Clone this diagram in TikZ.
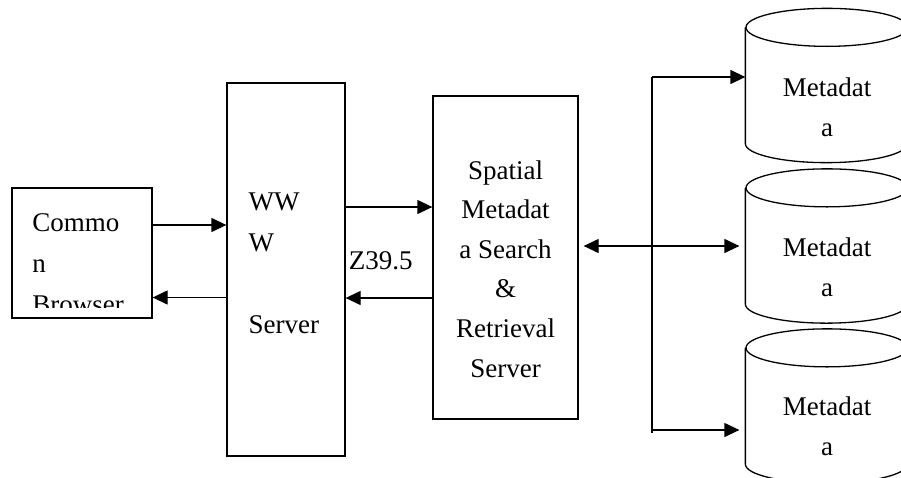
\documentclass[tikz,border=0pt]{standalone}
\usepackage{fontspec}
\setmainfont{Liberation Serif}
\usetikzlibrary{arrows.meta,positioning,calc}

% database outline drawn round a named node
\newcommand\drawdb[1]{%
  \draw ([yshift=-19pt]#1.north west) -- ([yshift=19pt]#1.south west)
    arc[start angle=180, end angle=0, x radius=81, y radius=19]
    -- ([yshift=-19pt]#1.north east);
  \draw ([yshift=-19pt]#1.north) ellipse [x radius=81, y radius=19];}

\begin{document}
\begin{tikzpicture}[x=1pt,y=-1pt,line width=1.3pt,
    >={Triangle[length=15pt,width=14pt]},
    box/.style={draw, rectangle, inner sep=0pt},
    txt/.style={inner sep=0pt, font=\fontsize{27}{41}\selectfont},
    db/.style={rectangle, minimum width=162pt, minimum height=153pt, inner sep=0pt}]
  \useasboundingbox (0,0) rectangle (901,477);

  % Boxes
  \node[box, minimum width=140pt, minimum height=130pt] (browser) at (82,253) {};
  \node[box, minimum width=118pt, minimum height=373pt] (www) at (286,269.5) {};
  \node[box, minimum width=145pt, minimum height=323pt] (search) at (505.5,257.5) {};

  % Databases
  \node[db] (db1) at (827,85.5) {};
  \node[db] (db2) at (827,246) {};
  \node[db] (db3) at (827,406) {};
  \drawdb{db1}
  \drawdb{db2}
  \drawdb{db3}

  % Texts
  \begin{scope}
    \clip (browser.north west) rectangle ([yshift=11pt]browser.south east);
    \node[txt, align=left, anchor=base west] (browsertxt) at (31.7,313)
      {Commo\\n\\Browser};
  \end{scope}
  \node[txt, align=left, anchor=base west] (wwwtxt) at (248,333)
    {WW\\W\\\\Server};
  \node[txt, align=center, anchor=base, font=\fontsize{27}{39.6}\selectfont]
    (searchtxt) at (505.5,377)
    {Spatial\\Metadat\\a Search\\\&\\Retrieval\\Server};
  \node[txt, align=center, anchor=base, font=\fontsize{27}{40}\selectfont]
    (db1txt) at (827,136.7) {Metadat\\a};
  \node[txt, align=center, anchor=base, font=\fontsize{27}{40}\selectfont]
    (db2txt) at (827,296.7) {Metadat\\a};
  \node[txt, align=center, anchor=base, font=\fontsize{27}{40}\selectfont]
    (db3txt) at (827,455) {Metadat\\a};
  \node[txt, anchor=base west] (z) at (348.3,269.3) {Z39.5};

  % Connectors
  \draw[->] ([yshift=28pt]browser.east) -- ([yshift=28pt]browser.east -| www.west);
  \draw[->] ([yshift=-28pt]www.west) -- ([yshift=-28pt]www.west -| browser.east);
  \draw[->] ([yshift=62.5pt]www.east) -- ([yshift=62.5pt]www.east -| search.west);
  \draw[->] ([yshift=-40.5pt]search.west) -- ([yshift=-40.5pt]search.west -| www.east);

  % Bus to databases
  \coordinate (busTop) at (652,77);
  \coordinate (busBot) at (652,433);
  \draw (busTop) -- (busBot);
  \draw[->] (busTop) -- (busTop -| db1.west);
  \draw[<->] ([xshift=5pt]search.east |- db2.west) -- ([xshift=-6pt]db2.west);
  \draw[->] ([yshift=3pt]busBot) -- ([yshift=3pt,xshift=-6pt]busBot -| db3.west);
\end{tikzpicture}
\end{document}
